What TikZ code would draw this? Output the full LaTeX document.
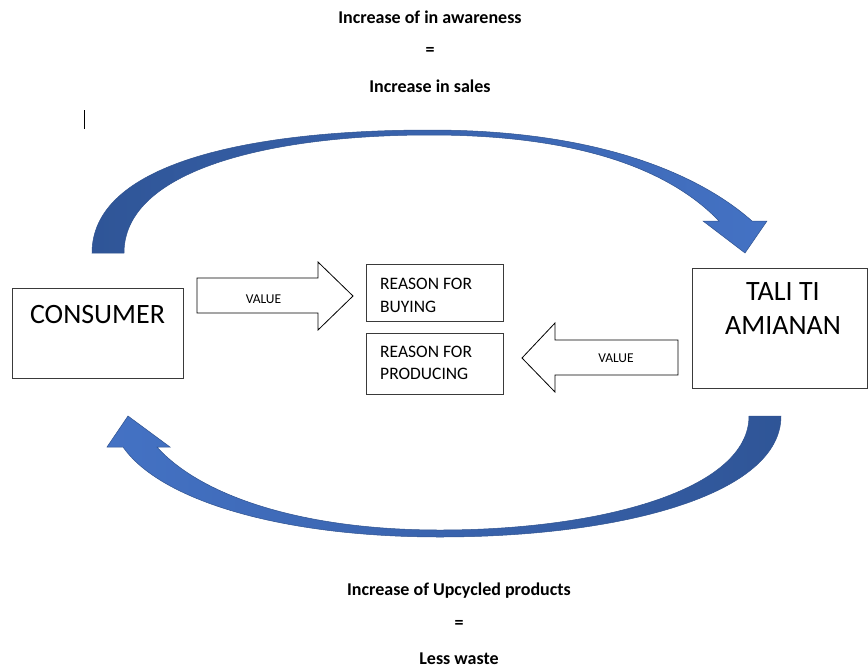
\documentclass[tikz,border=0pt]{standalone}
\usepackage{fontspec}
\setmainfont{Carlito}
\definecolor{arrowDark}{HTML}{2F5597}
\definecolor{arrowLight}{HTML}{4472C4}
\definecolor{arrowEdge}{HTML}{2F528F}
\definecolor{boxEdge}{HTML}{3A3A3A}

\begin{document}
\begin{tikzpicture} [
    x=1pt, y=-1pt,
    actorBox/.style={rectangle, draw=boxEdge, line width=0.8pt, inner sep=0pt},
    reasonBox/.style={rectangle, draw=boxEdge, line width=0.8pt, inner sep=0pt, minimum width=137},
    actorText/.style={inner sep=0pt, align=center, font=\fontsize{28}{34}\selectfont},
    reasonText/.style={inner sep=0pt, align=left, anchor=base west, font=\fontsize{17.5}{22.5}\selectfont},
    effectText/.style={inner sep=0pt, font=\fontsize{18}{21}\selectfont\bfseries},
    valueText/.style={inner sep=0pt, font=\fontsize{13.5}{16}\selectfont},
    blockArrow/.style={draw=black, line width=0.8pt, fill=white, line join=miter},
    flowArrow/.style={draw=arrowEdge, line width=0.5pt, shading=axis, shading angle=90}
]

\useasboundingbox (0, 0) rectangle (868, 667);

\node[effectText, anchor=base] (awareness) at (430, 23) {Increase of in awareness};
\node[effectText] (topEquals) at (430, 51) {=};
\node[effectText, anchor=base] (sales) at (430, 92) {Increase in sales};

\draw[line width=0.6pt] (84, 110) -- (84, 129);

\node[actorBox, minimum width=171, minimum height=90] (consumer) at (97.5, 333) {};
\node[actorText, anchor=base] (consumerText) at (97.5, 323) {CONSUMER};

\node[actorBox, minimum width=175, minimum height=120] (tali) at (779.5, 328) {};
\node[actorText, anchor=base] (taliText) at (783, 334) {TALI TI\\AMIANAN};

\node[reasonBox, minimum height=57] (buying) at (434.5, 292.5) {};
\node[reasonText] (buyingText) at (380, 312) {REASON FOR\\BUYING};

\node[reasonBox, minimum height=61] (producing) at (434.5, 363.5) {};
\node[reasonText] (producingText) at (380, 379.5) {REASON FOR\\PRODUCING};

\draw[blockArrow] (197, 278) -- (318, 278) -- (318, 262) -- (353, 296) -- (318, 330) -- (318, 313) -- (197, 313) -- cycle;
\node[valueText] (valueRight) at (263.5, 299) {VALUE};

\draw[blockArrow] (678, 340) -- (555, 340) -- (555, 323) -- (522, 358) -- (555, 392) -- (555, 375) -- (678, 375) -- cycle;
\node[valueText] (valueLeft) at (616, 358) {VALUE};

\draw[flowArrow, left color=arrowDark, middle color=arrowDark, right color=arrowLight]
    (92, 253) .. controls (92, 160) and (260, 130) .. (430, 130)
    .. controls (600, 130) and (700, 175) .. (752, 221)
    -- (767, 221) -- (745, 253) -- (703, 221) -- (719, 221)
    .. controls (670, 170) and (580, 135) .. (430, 135)
    .. controls (270, 135) and (124, 170) .. (124, 253) -- cycle;

\draw[flowArrow, left color=arrowLight, middle color=arrowLight!50!arrowDark, right color=arrowDark]
    (781, 416) .. controls (781, 495) and (620, 537) .. (440, 537)
    .. controls (280, 537) and (160, 500) .. (123, 447)
    -- (107, 447) -- (128, 416) -- (170, 447) -- (157, 447)
    .. controls (200, 495) and (300, 530) .. (440, 530)
    .. controls (600, 530) and (749, 490) .. (749, 416) -- cycle;

\node[effectText, anchor=base] (upcycled) at (459, 595) {Increase of Upcycled products};
\node[effectText] (bottomEquals) at (459, 624) {=};
\node[effectText, anchor=base] (waste) at (459, 664) {Less waste};

\end{tikzpicture}
\end{document}
